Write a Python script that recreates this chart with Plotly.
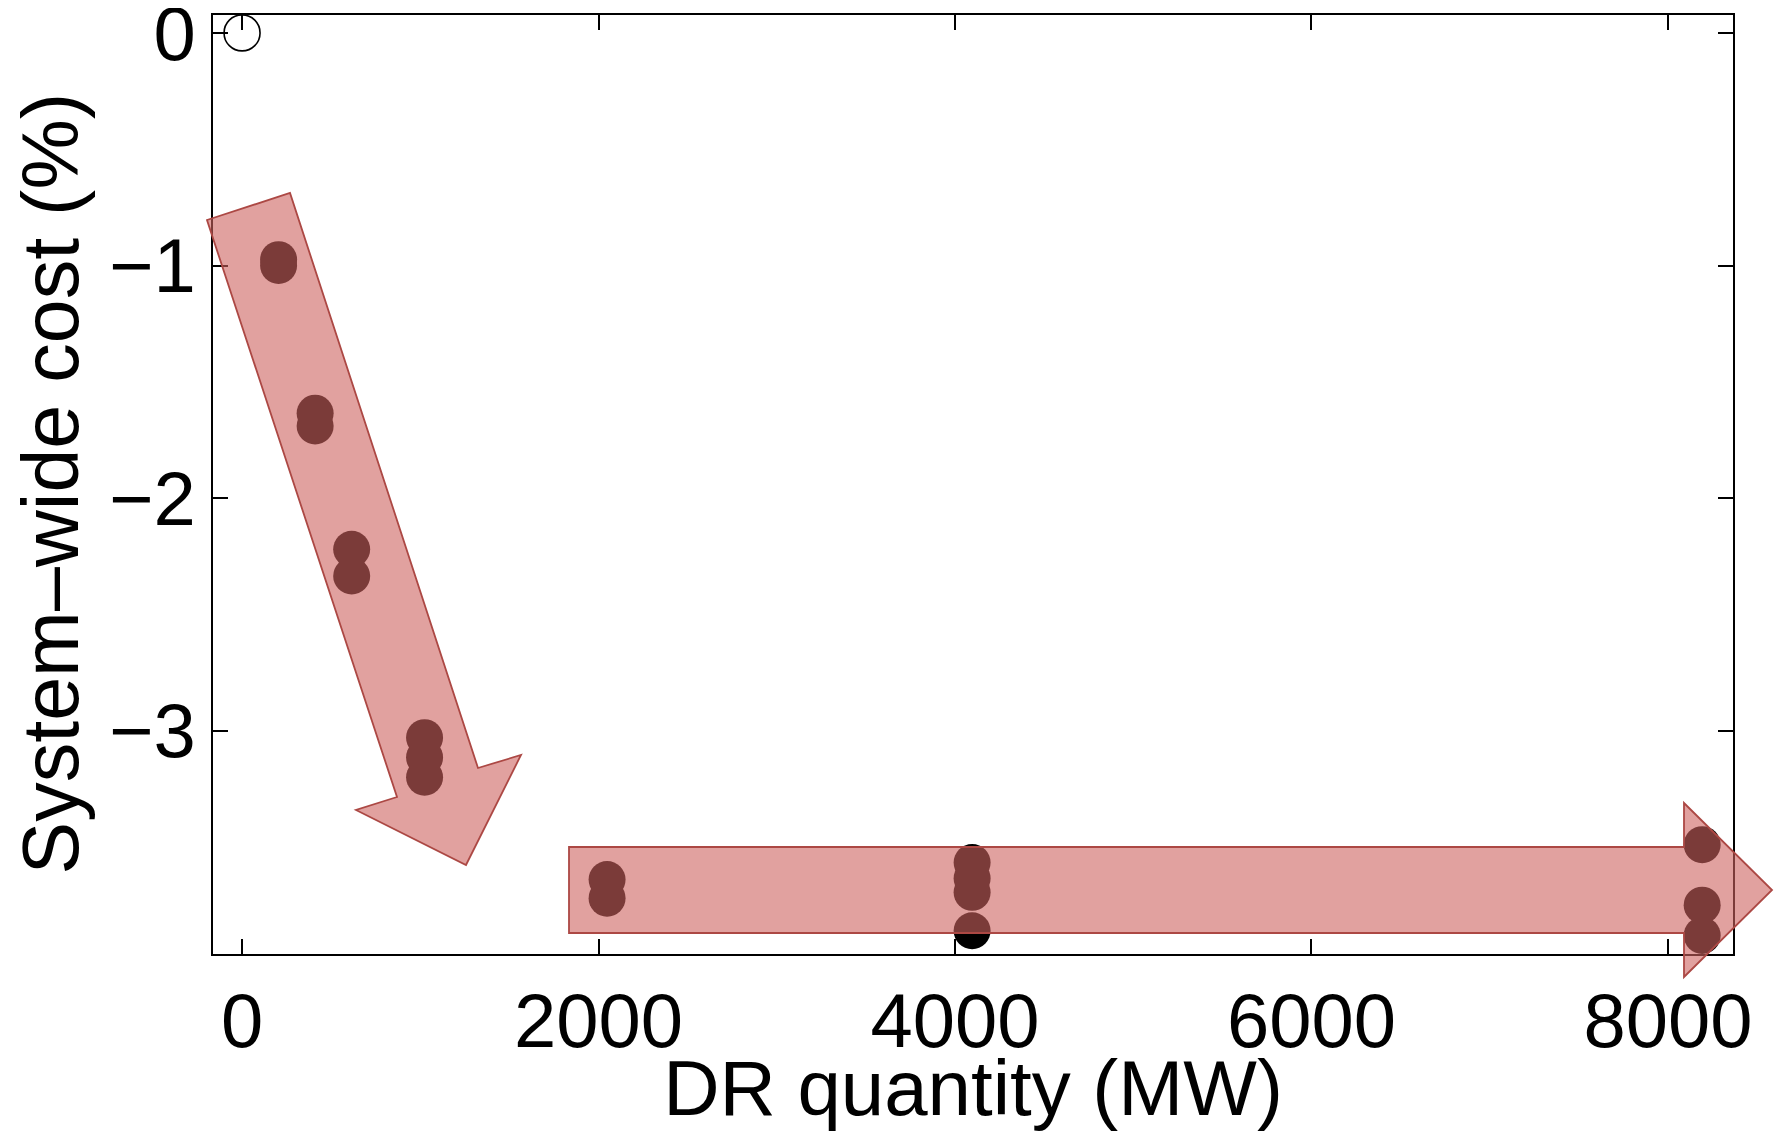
import plotly.graph_objects as go

# ---------------- data ----------------
baseline_mw = [0]
baseline_cost = [0.0]

dr_quantity_mw = [205, 205, 410, 410, 615, 615, 1024, 1024, 1024,
                  2048, 2048, 4096, 4096, 4096, 4096, 8192, 8192, 8192]
cost_change_pct = [-0.975, -1.00, -1.635, -1.69, -2.22, -2.335, -3.03, -3.115, -3.20,
                   -3.64, -3.72, -3.567, -3.635, -3.695, -3.86, -3.49, -3.75, -3.88]

x_ticks = [0, 2000, 4000, 6000, 8000]
y_ticks = [0, -1, -2, -3]
y_tick_text = ["0", "−1", "−2", "−3"]
x_title = "DR quantity (MW)"
y_title = "System–wide cost (%)"

# ---------------- layout geometry (page pixels) ----------------
PAGE_OFF = 8                      # default body margin of the html page
W, H = 1768, 1124                 # figure size
PL, PT, PR, PB = 213, 15, 1733, 954   # plot area on the page
ML = PL - PAGE_OFF
MT = PT - PAGE_OFF
MR = PAGE_OFF + W - PR
MB = PAGE_OFF + H - PB

def to_paper(x, y):
    return (x - PL) / (PR - PL), (PB - y) / (PB - PT)

def path_from(pts):
    p = [to_paper(x, y) for x, y in pts]
    return "M " + " L ".join(f"{x:.5f},{y:.5f}" for x, y in p) + " Z"

# decorative trend arrows (outline in page pixels)
diag_arrow = [(207, 220), (290, 193), (478, 768), (521, 755), (466, 865),
              (356, 810), (397, 797)]
horiz_arrow = [(569, 847), (1684, 847), (1684, 803), (1772, 890),
               (1684, 977), (1684, 933), (569, 933)]

FONT = "Liberation Sans, Arial, Helvetica, sans-serif"

fig = go.Figure()
fig.add_trace(go.Scatter(
    x=dr_quantity_mw, y=cost_change_pct, mode="markers",
    marker=dict(size=37, color="black", line=dict(width=0)),
    cliponaxis=False, showlegend=False))
fig.add_trace(go.Scatter(
    x=baseline_mw, y=baseline_cost, mode="markers",
    marker=dict(size=36, color="rgba(0,0,0,0)", line=dict(width=1.6, color="black")),
    cliponaxis=False, showlegend=False))

for arrow in (diag_arrow, horiz_arrow):
    fig.add_shape(type="path", path=path_from(arrow), xref="paper", yref="paper",
                  fillcolor="rgba(205,98,95,0.6)",
                  line=dict(color="rgb(172,72,68)", width=1.8),
                  layer="above")

# y-axis title as a rotated annotation so it can sit closer to the page edge
ytx, yty = to_paper(50, (PT + PB) / 2)
fig.add_annotation(text=y_title, xref="paper", yref="paper", x=ytx, y=yty,
                   xanchor="center", yanchor="middle", textangle=-90,
                   showarrow=False, borderpad=0, font=dict(size=79))

fig.update_layout(
    width=W, height=H,
    margin=dict(l=ML, r=MR, t=MT, b=MB, autoexpand=False),
    plot_bgcolor="white", paper_bgcolor="white",
    font=dict(family=FONT, size=76, color="black"),
)
fig.update_xaxes(
    range=[-163, 8365], tickvals=x_ticks, ticktext=[str(v) for v in x_ticks],
    ticks="inside", ticklen=15, tickwidth=2, tickcolor="black",
    showline=True, linewidth=2.2, linecolor="black", mirror="ticks",
    showgrid=False, zeroline=False, ticklabeloverflow="allow",
    tickfont=dict(size=76),
    title=dict(text=x_title, font=dict(size=78), standoff=1),
)
fig.update_yaxes(
    range=[-3.96, 0.077], tickvals=y_ticks, ticktext=y_tick_text,
    ticks="inside", ticklen=15, tickwidth=2, tickcolor="black",
    showline=True, linewidth=2.2, linecolor="black", mirror="ticks",
    showgrid=False, zeroline=False, ticklabeloverflow="allow",
    tickfont=dict(size=76),
)

fig.write_html("out.html")
